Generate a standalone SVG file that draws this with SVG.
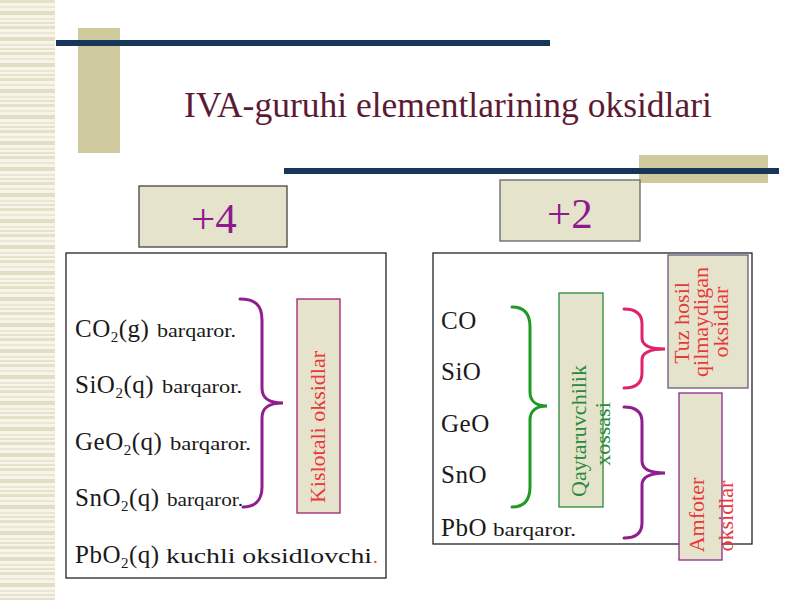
<svg xmlns="http://www.w3.org/2000/svg" width="800" height="600" viewBox="0 0 800 600">
<defs>
<pattern id="stripes" x="0" y="0" width="55" height="26" patternUnits="userSpaceOnUse">
<rect width="55" height="26" fill="#f7f4ea"/>
<rect y="0" width="55" height="3" fill="#e6e0c8"/>
<rect y="6" width="55" height="2" fill="#ece7d3"/>
<rect y="11" width="55" height="4" fill="#e3ddc4"/>
<rect y="18" width="55" height="2" fill="#ebe6d2"/>
<rect y="22" width="55" height="2" fill="#e8e2cb"/>
</pattern>
<style>
.serif{font-family:"Liberation Serif","Times New Roman",serif}
.f{font-size:25px;fill:#1a1a1a}
.s{font-size:19px;fill:#1a1a1a}
.box{fill:#e6e3cc}
.panel{fill:#ffffff;stroke:#222;stroke-width:1.3}
.num{font-size:43px;fill:#8e1a8e;text-anchor:middle}
.red{fill:#e8383a;font-size:22px;text-anchor:middle}
.grn{fill:#2a8a3a;font-size:22px;text-anchor:middle}
.brace{fill:none;stroke-width:3;stroke-linecap:round}
</style>
</defs>
<rect width="800" height="600" fill="#ffffff"/>
<g id="background">
<rect x="0" y="0" width="55" height="600" fill="url(#stripes)"/>
<rect x="78" y="28" width="42" height="125" fill="#cfc99e"/>
<rect x="56" y="40" width="494" height="6" fill="#17375a"/>
<rect x="639" y="155" width="129" height="28" fill="#cfc99e"/>
<rect x="284" y="168" width="495" height="6" fill="#17375a"/>
</g>
<g id="title">
<text x="448" y="117" class="serif" font-size="35.5" fill="#5c1a33" text-anchor="middle">IVA-guruhi elementlarining oksidlari</text>
</g>
<g id="box-plus4">
<rect x="139" y="186" width="148" height="61" class="box" stroke="#444" stroke-width="1.3"/>
<text x="214" y="233" class="serif num">+4</text>
</g>
<g id="box-plus2">
<rect x="500" y="180" width="140" height="61" class="box" stroke="#666" stroke-width="1.3"/>
<text x="570" y="228" class="serif num">+2</text>
</g>
<g id="panel-left">
<rect x="66" y="253" width="320" height="325" class="panel"/>
<text x="75" y="337" class="serif f" letter-spacing="0.5">CO<tspan font-size="15" dy="5">2</tspan><tspan dy="-5">(g)</tspan></text>
<text x="157" y="337" class="serif s" textLength="79" lengthAdjust="spacingAndGlyphs">barqaror.</text>
<text x="75" y="393" class="serif f" letter-spacing="0.5">SiO<tspan font-size="15" dy="5">2</tspan><tspan dy="-5">(q)</tspan></text>
<text x="162" y="393" class="serif s" textLength="80" lengthAdjust="spacingAndGlyphs">barqaror.</text>
<text x="75" y="450" class="serif f" letter-spacing="0.5">GeO<tspan font-size="15" dy="5">2</tspan><tspan dy="-5">(q)</tspan></text>
<text x="170" y="450" class="serif s" textLength="81" lengthAdjust="spacingAndGlyphs">barqaror.</text>
<text x="75" y="506" class="serif f" letter-spacing="0.5">SnO<tspan font-size="15" dy="5">2</tspan><tspan dy="-5">(q)</tspan></text>
<text x="167" y="506" class="serif s" textLength="76" lengthAdjust="spacingAndGlyphs">barqaror.</text>
<text x="75" y="563" class="serif f" letter-spacing="0.5">PbO<tspan font-size="15" dy="5">2</tspan><tspan dy="-5">(q)</tspan></text>
<text x="166" y="563" class="serif s" style="font-size:20px" textLength="206" lengthAdjust="spacingAndGlyphs">kuchli oksidlovchi</text>
<text x="373" y="563" class="serif s" style="fill:#e8383a">.</text>
</g>
<g id="label-kislotali">
<rect x="297" y="299" width="43" height="214" class="box" stroke="#a0206a" stroke-width="1.3"/>
<text transform="translate(325,427) rotate(-90)" class="serif red">Kislotali oksidlar</text>
</g>
<g id="panel-right">
<rect x="433" y="253" width="319" height="291" class="panel"/>
<text x="441" y="329" class="serif f" letter-spacing="0.5">CO</text>
<text x="441" y="380" class="serif f" letter-spacing="0.5">SiO</text>
<text x="441" y="432" class="serif f" letter-spacing="0.5">GeO</text>
<text x="441" y="483" class="serif f" letter-spacing="0.5">SnO</text>
<text x="441" y="536" class="serif f" letter-spacing="0.5">PbO</text>
<text x="493" y="536" class="serif s" textLength="83" lengthAdjust="spacingAndGlyphs">barqaror.</text>
</g>
<g id="label-qaytaruvchilik">
<rect x="559" y="293" width="44" height="214" class="box" stroke="#2a8a3a" stroke-width="1.3"/>
<text transform="translate(586,431) rotate(-90)" class="serif grn">Qaytaruvchilik</text>
<text transform="translate(610,434) rotate(-90)" class="serif grn">xossasi</text>
</g>
<g id="label-tuz-hosil">
<rect x="668" y="255" width="80" height="133" class="box" stroke="#6a5a7a" stroke-width="1.3"/>
<text transform="translate(689,323) rotate(-90)" class="serif red">Tuz hosil</text>
<text transform="translate(708,322) rotate(-90)" class="serif red">qilmaydigan</text>
<text transform="translate(728,322) rotate(-90)" class="serif red">oksidlar</text>
</g>
<g id="label-amfoter">
<rect x="679" y="393" width="43" height="167" class="box" stroke="#8a2a8a" stroke-width="1.3"/>
<text transform="translate(704,515) rotate(-90)" class="serif red">Amfoter</text>
<text transform="translate(733,516) rotate(-90)" class="serif red">oksidlar</text>
</g>
<g id="connectors">
<path class="brace" stroke="#901c8e" d="M240,299 C255,299 262,305 262,320 L262,388 C262,398 268,403 283,403 C268,403 262,408 262,418 L262,487 C262,500 255,507 243,507"/>
<path class="brace" stroke="#1f9a24" d="M512,307 C524,307 530,314 530,327 L530,392 C530,401 536,406 547,406 C536,406 530,411 530,420 L530,487 C530,500 524,507 512,507"/>
<path class="brace" stroke="#e0226a" d="M624,309 C636,309 642,314 642,324 L642,338 C642,345 649,349 665,349 C649,349 642,353 642,360 L642,373 C642,383 636,388 624,388"/>
<path class="brace" stroke="#901c8e" d="M624,407 C636,407 642,412 642,422 L642,461 C642,468 649,473 665,473 C649,473 642,478 642,485 L642,523 C642,533 636,538 624,538"/>
</g>
</svg>
